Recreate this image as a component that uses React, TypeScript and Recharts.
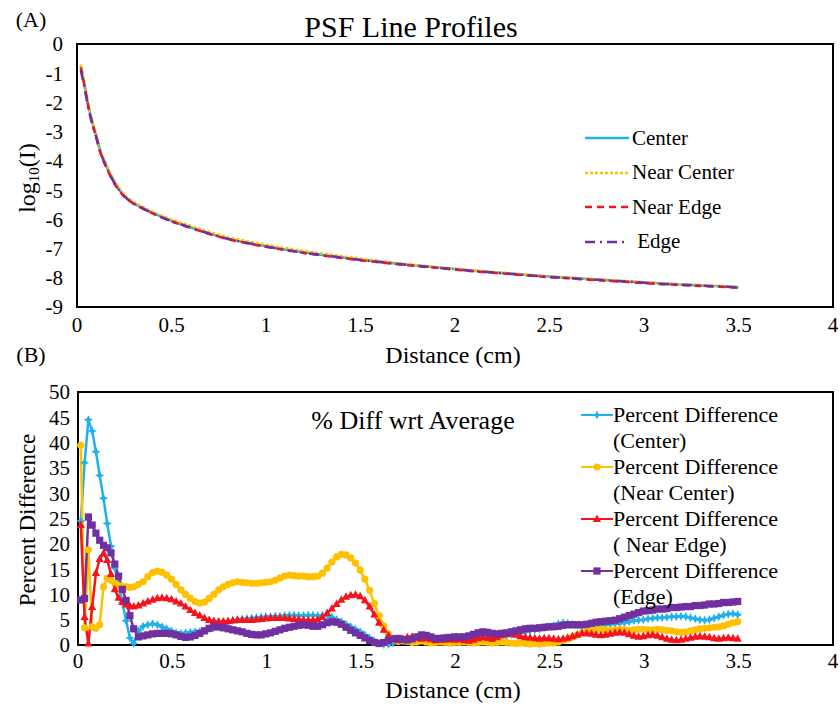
import React from 'react'
import { LineChart, Line, XAxis, YAxis, ReferenceArea } from 'recharts'

const FONT = '"Liberation Serif", "Times New Roman", serif'

const BLUE = '#1FB1EA'
const YELLOW = '#FFC000'
const RED = '#F5141E'
const PURPLE = '#7030A0'

// (A) PSF line profiles, log10 intensity vs distance (cm)
const DIST_A = [0.02, 0.04, 0.06, 0.08, 0.1, 0.125, 0.15, 0.175, 0.2, 0.25, 0.3, 0.35, 0.4, 0.5, 0.6, 0.7, 0.8, 0.9, 1.0, 1.1, 1.2, 1.3, 1.4, 1.5, 1.6, 1.7, 1.8, 1.9, 2.0, 2.1, 2.2, 2.3, 2.4, 2.5, 2.6, 2.7, 2.8, 2.9, 3.0, 3.1, 3.2, 3.3, 3.4, 3.5]
const PSF_CENTER = [-0.75, -1.4, -2.1, -2.65, -3.1, -3.7, -4.1, -4.45, -4.75, -5.2, -5.45, -5.62, -5.78, -6.05, -6.27, -6.48, -6.66, -6.8, -6.92, -7.03, -7.13, -7.22, -7.3, -7.38, -7.45, -7.52, -7.58, -7.64, -7.7, -7.76, -7.81, -7.86, -7.91, -7.96, -8.0, -8.04, -8.08, -8.12, -8.16, -8.2, -8.23, -8.26, -8.29, -8.32]
const PSF_NEAR_CENTER = [-0.7, -1.35, -2.05, -2.6, -3.05, -3.65, -4.05, -4.4, -4.7, -5.15, -5.4, -5.58, -5.74, -6.0, -6.22, -6.43, -6.61, -6.75, -6.87, -6.98, -7.08, -7.17, -7.26, -7.34, -7.42, -7.5, -7.56, -7.63, -7.69, -7.75, -7.8, -7.85, -7.9, -7.95, -7.99, -8.03, -8.07, -8.11, -8.15, -8.19, -8.22, -8.25, -8.28, -8.31]
const PSF_NEAR_EDGE = [-0.8, -1.45, -2.15, -2.7, -3.15, -3.75, -4.15, -4.5, -4.8, -5.22, -5.47, -5.64, -5.8, -6.07, -6.29, -6.5, -6.68, -6.82, -6.94, -7.05, -7.15, -7.24, -7.32, -7.4, -7.47, -7.54, -7.6, -7.66, -7.72, -7.78, -7.83, -7.88, -7.93, -7.98, -8.02, -8.06, -8.1, -8.14, -8.18, -8.22, -8.25, -8.28, -8.31, -8.34]
const PSF_EDGE = [-0.9, -1.5, -2.2, -2.72, -3.15, -3.72, -4.12, -4.48, -4.78, -5.21, -5.46, -5.63, -5.79, -6.06, -6.28, -6.49, -6.67, -6.81, -6.93, -7.04, -7.14, -7.23, -7.31, -7.39, -7.46, -7.53, -7.59, -7.65, -7.71, -7.77, -7.82, -7.87, -7.92, -7.97, -8.01, -8.05, -8.09, -8.13, -8.17, -8.21, -8.24, -8.27, -8.3, -8.33]

// (B) percent difference wrt average
const DIST_B = [
  0.015, 0.035, 0.055, 0.075, 0.095, 0.115, 0.135, 0.155, 0.175, 0.195, 0.215, 0.235, 0.255, 0.275, 0.295,
  0.32, 0.345, 0.37, 0.395, 0.42, 0.445, 0.47, 0.495, 0.52, 0.545, 0.57, 0.595, 0.62, 0.645, 0.67, 0.695, 0.72, 0.745, 0.77, 0.795, 0.82, 0.845, 0.87, 0.895, 0.92, 0.945, 0.97, 0.995,
  1.02, 1.045, 1.07, 1.095, 1.12, 1.145, 1.17, 1.195, 1.22, 1.245, 1.27, 1.295, 1.32, 1.345, 1.37, 1.395, 1.42, 1.445, 1.47, 1.495,
  1.52, 1.545, 1.57, 1.595, 1.62, 1.645, 1.67, 1.695, 1.72, 1.745, 1.77, 1.795, 1.82, 1.845, 1.87, 1.895, 1.92, 1.945, 1.97, 1.995,
  2.02, 2.045, 2.07, 2.095, 2.12, 2.145, 2.17, 2.195, 2.22, 2.245, 2.27, 2.295, 2.32, 2.345, 2.37, 2.395, 2.42, 2.445, 2.47, 2.495,
  2.52, 2.545, 2.57, 2.595, 2.62, 2.645, 2.67, 2.695, 2.72, 2.745, 2.77, 2.795, 2.82, 2.845, 2.87, 2.895, 2.92, 2.945, 2.97, 2.995,
  3.02, 3.045, 3.07, 3.095, 3.12, 3.145, 3.17, 3.195, 3.22, 3.245, 3.27, 3.295, 3.32, 3.345, 3.37, 3.395, 3.42, 3.445, 3.47, 3.495,
]
const PD_CENTER = [
  24.5, 36, 44.5, 42.3, 38.2, 33.5, 29, 24, 19.5, 15.2, 11.9, 8.4, 4.8, 1.4, 0.3,
  2.8, 3.7, 4.0, 4.2, 4.0, 3.6, 3.2, 2.8, 2.4, 2.3, 2.4, 2.5, 2.6, 2.6, 2.8, 3.2, 3.4, 3.6, 4.0, 4.4, 4.8, 5.0, 5.1, 5.2, 5.3, 5.4, 5.5, 5.6,
  5.6, 5.7, 5.7, 5.8, 5.9, 5.9, 5.8, 5.8, 5.9, 5.9, 5.8, 5.9, 5.8, 5.5, 5.0, 4.6, 4.1, 3.6, 3.1, 2.6,
  2.0, 1.4, 0.8, 0.4, 0.1, 0.1, 0.4, 0.8, 1.1, 1.3, 1.4, 1.5, 1.4, 1.2, 1.0, 1.1, 1.3, 1.4, 1.3, 1.2,
  1.3, 1.5, 1.6, 1.5, 1.4, 1.6, 1.8, 1.9, 1.8, 1.7, 1.9, 2.1, 2.3, 2.4, 2.6, 2.8, 3.0, 3.2, 3.4, 3.6,
  3.9, 4.2, 4.4, 4.3, 4.1, 3.9, 3.7, 3.6, 3.7, 3.8, 3.9, 4.0, 4.1, 4.2, 4.3, 4.4, 4.6, 4.8, 4.9, 5.0,
  5.2, 5.3, 5.4, 5.4, 5.5, 5.6, 5.6, 5.7, 5.6, 5.4, 5.2, 5.0, 4.9, 5.0, 5.3, 5.6, 5.9, 6.1, 6.2, 6.0,
]
const PD_NEAR_CENTER = [
  39.5, 3.4, 18.8, 3.6, 3.3, 4.0, 11.5, 13.2, 12.8, 12.2, 11.8, 11.6, 11.5, 11.4, 11.5,
  12.0, 12.5, 13.5, 14.3, 14.6, 14.4, 13.8, 13.0, 12.0, 10.9, 10.0, 9.2, 8.6, 8.3, 8.5, 9.2, 10.0, 10.9, 11.5, 12.0, 12.3, 12.5, 12.4, 12.3, 12.2, 12.2, 12.3, 12.4,
  12.5, 12.8, 13.2, 13.6, 13.8, 13.7, 13.6, 13.6, 13.5, 13.5, 13.6, 14.2, 15.2, 16.4, 17.4, 17.9, 17.8, 17.2, 16.2, 14.8,
  13.0, 10.8, 8.2, 5.8, 3.8, 2.2, 1.1, 0.7, 0.8, 0.7, 0.5, 0.6, 0.8, 0.6, 0.4, 0.5, 0.6, 0.5, 0.4, 0.5,
  0.5, 0.6, 0.5, 0.4, 0.5, 0.6, 0.5, 0.4, 0.5, 0.6, 0.5, 0.4, 0.3, 0.4, 0.3, 0.2, 0.3, 0.2, 0.3, 0.4,
  0.4, 0.6, 0.9, 1.2, 1.6, 2.0, 2.4, 2.7, 2.9, 3.0, 3.1, 3.0, 2.9, 3.0, 3.1, 3.0, 2.9, 3.0, 3.1, 3.1,
  3.0, 3.0, 3.1, 3.0, 2.9, 2.8, 2.6, 2.5, 2.6, 2.8, 3.0, 3.2, 3.3, 3.4, 3.5, 3.6, 3.8, 4.1, 4.4, 4.6,
]
const PD_NEAR_EDGE = [
  23.7, 5.5, 0.3, 7.5, 14.2, 17.0, 18.1, 16.8, 14.0, 11.0, 9.3, 8.5, 8.0, 7.7, 7.6,
  7.8, 8.2, 8.6, 8.9, 9.2, 9.3, 9.2, 9.0, 8.6, 8.2, 7.6, 6.9, 6.3, 5.8, 5.3, 4.9, 4.7, 4.6, 4.6, 4.7, 4.8, 4.9, 4.9, 4.9, 4.9, 5.0, 5.1, 5.2,
  5.3, 5.3, 5.3, 5.3, 5.2, 5.1, 5.0, 4.9, 4.9, 4.9, 5.0, 5.5, 6.3, 7.2, 8.1, 8.9, 9.5, 9.8, 9.9, 9.6,
  8.8, 7.6, 6.0, 4.4, 3.0, 1.9, 1.2, 0.9, 1.2, 1.5, 1.6, 1.4, 1.2, 1.3, 1.1, 0.9, 1.0, 1.0, 1.1, 1.0,
  1.1, 0.9, 0.8, 1.0, 1.3, 1.5, 1.4, 1.2, 1.5, 1.9, 2.1, 2.2, 2.0, 1.7, 1.5, 1.4, 1.3, 1.2, 1.3, 1.3,
  1.2, 1.1, 1.2, 1.4, 1.7, 2.0, 2.3, 2.3, 2.2, 2.0, 1.9, 2.0, 2.2, 2.4, 2.5, 2.4, 2.1, 1.8, 1.6, 1.7,
  1.9, 2.0, 1.8, 1.5, 1.2, 1.0, 0.9, 1.0, 1.2, 1.4, 1.6, 1.7, 1.6, 1.5, 1.3, 1.2, 1.3, 1.4, 1.3, 1.2,
]
const PD_EDGE = [
  8.9, 9.2, 25.3, 23.7, 22.1, 20.7, 19.7, 19.2, 18.2, 16.0, 13.6, 11.0, 8.8, 5.8, 3.2,
  1.6, 1.8, 2.0, 2.2, 2.3, 2.3, 2.3, 2.2, 2.0, 1.7, 1.5, 1.6, 1.9, 2.3, 2.8, 3.3, 3.6, 3.6, 3.4, 3.2, 3.0, 2.8, 2.6, 2.3, 2.1, 2.0, 2.0, 2.2,
  2.4, 2.7, 3.0, 3.3, 3.5, 3.7, 3.9, 4.0, 3.9, 3.7, 3.7, 4.0, 4.4, 4.6, 4.5, 4.1, 3.5, 2.9, 2.4, 1.9,
  1.4, 0.9, 0.5, 0.3, 0.5, 0.9, 1.2, 1.3, 1.1, 1.0, 1.2, 1.6, 2.0, 1.9, 1.6, 1.3, 1.3, 1.4, 1.5, 1.6,
  1.6, 1.6, 1.8, 2.1, 2.4, 2.6, 2.5, 2.3, 2.2, 2.3, 2.4, 2.6, 2.8, 3.0, 3.2, 3.3, 3.3, 3.4, 3.5, 3.6,
  3.6, 3.7, 3.9, 4.0, 4.0, 4.0, 4.0, 4.1, 4.3, 4.5, 4.6, 4.7, 4.8, 4.9, 5.2, 5.5, 5.8, 6.1, 6.4, 6.7,
  6.8, 6.9, 7.1, 7.1, 7.2, 7.4, 7.4, 7.5, 7.6, 7.6, 7.8, 7.8, 7.9, 8.1, 8.1, 8.2, 8.4, 8.4, 8.5, 8.6,
]

const X_TICKS = [0, 0.5, 1, 1.5, 2, 2.5, 3, 3.5, 4]
const Y_TICKS_A = [-9, -8, -7, -6, -5, -4, -3, -2, -1, 0]
const Y_TICKS_B = [0, 5, 10, 15, 20, 25, 30, 35, 40, 45, 50]

const psfRows = DIST_A.map((d, i) => ({
  d,
  center: PSF_CENTER[i],
  nearCenter: PSF_NEAR_CENTER[i],
  nearEdge: PSF_NEAR_EDGE[i],
  edge: PSF_EDGE[i],
}))

const pdRows = DIST_B.map((d, i) => ({
  d,
  center: PD_CENTER[i],
  nearCenter: PD_NEAR_CENTER[i],
  nearEdge: PD_NEAR_EDGE[i],
  edge: PD_EDGE[i],
}))

const tickStyle = { fontSize: 21, fill: '#000', fontFamily: FONT }

// marker shapes
function marker(kind: string, color: string, cx: number, cy: number, key?: any) {
  if (kind === 'star') {
    const a = 4.6, b = 1.5
    return (
      <path key={key} fill={color}
        d={`M${cx},${cy - a}L${cx + b},${cy - b}L${cx + a},${cy}L${cx + b},${cy + b}L${cx},${cy + a}L${cx - b},${cy + b}L${cx - a},${cy}L${cx - b},${cy - b}Z`} />
    )
  }
  if (kind === 'circle') return <circle key={key} cx={cx} cy={cy} r={3.6} fill={color} />
  if (kind === 'triangle') {
    return <path key={key} fill={color} d={`M${cx},${cy - 4.6}L${cx + 4.1},${cy + 2.9}L${cx - 4.1},${cy + 2.9}Z`} />
  }
  return <rect key={key} x={cx - 3.6} y={cy - 3.6} width={7.2} height={7.2} fill={color} />
}

const dotFn = (kind: string, color: string) => (p: any) => {
  if (p.cx == null || p.cy == null) return <g key={`e-${p.index}`} />
  return marker(kind, color, p.cx, p.cy, `${kind}-${p.index}`)
}

const Txt = ({ x, y, size, children, rotate }: any) => (
  <div
    style={{
      position: 'absolute', left: x, top: y, fontFamily: FONT, fontSize: size, lineHeight: 1,
      whiteSpace: 'nowrap', color: '#000',
      transform: `translate(-50%, -50%)${rotate ? ' rotate(-90deg)' : ''}`,
    }}
  >
    {children}
  </div>
)

const LEGEND_A = [
  { name: 'Center', color: BLUE, dash: undefined },
  { name: 'Near Center', color: YELLOW, dash: '3 2' },
  { name: 'Near Edge', color: RED, dash: '7 5' },
  { name: ' Edge', color: PURPLE, dash: '10 5 2 5' },
]

const LEGEND_B = [
  { sub: '(Center)', color: BLUE, kind: 'star' },
  { sub: '(Near Center)', color: YELLOW, kind: 'circle' },
  { sub: '( Near Edge)', color: RED, kind: 'triangle' },
  { sub: '(Edge)', color: PURPLE, kind: 'square' },
]

export default function App() {
  return (
    <div style={{ position: 'absolute', left: 0, top: 0, width: 840, height: 713, background: '#fff', overflow: 'hidden' }}>
      {/* (A) */}
      <div style={{ position: 'absolute', left: 0, top: 0 }}>
        <LineChart width={840} height={345} data={psfRows} margin={{ top: 44, right: 7, bottom: 0, left: 0 }}>
          <XAxis dataKey="d" type="number" domain={[0, 4]} ticks={X_TICKS} interval={0} tickLine={false}
            axisLine={false} height={38} tickMargin={4} tick={tickStyle} />
          <YAxis type="number" domain={[-9, 0]} ticks={Y_TICKS_A} interval={0} tickLine={false}
            axisLine={false} width={77} tickMargin={8} tick={tickStyle} />
          <ReferenceArea x1={0} x2={4} y1={-9} y2={0} fill="none" fillOpacity={0} stroke="#000" strokeWidth={2} />
          <Line dataKey="center" stroke={BLUE} strokeWidth={2.5} dot={false} type="monotone" isAnimationActive={false} />
          <Line dataKey="nearCenter" stroke={YELLOW} strokeWidth={2.5} strokeDasharray="3 2" dot={false} type="monotone" isAnimationActive={false} />
          <Line dataKey="nearEdge" stroke={RED} strokeWidth={2.5} strokeDasharray="7 5" dot={false} type="monotone" isAnimationActive={false} />
          <Line dataKey="edge" stroke={PURPLE} strokeWidth={2.5} strokeDasharray="10 5 2 5" dot={false} type="monotone" isAnimationActive={false} />
        </LineChart>
      </div>

      {/* (B) */}
      <div style={{ position: 'absolute', left: 0, top: 360 }}>
        <LineChart width={840} height={330} data={pdRows} margin={{ top: 32, right: 7, bottom: 0, left: 0 }}>
          <XAxis dataKey="d" type="number" domain={[0, 4]} ticks={X_TICKS} interval={0} tickLine={false}
            axisLine={false} height={45} tick={tickStyle} />
          <YAxis type="number" domain={[0, 50]} ticks={Y_TICKS_B} interval={0} tickLine={false}
            axisLine={false} width={78} tick={tickStyle} />
          <ReferenceArea x1={0} x2={4} y1={0} y2={50} fill="none" fillOpacity={0} stroke="#000" strokeWidth={2} />
          <Line dataKey="center" stroke={BLUE} strokeWidth={2.5} dot={dotFn('star', BLUE)} isAnimationActive={false} />
          <Line dataKey="nearCenter" stroke={YELLOW} strokeWidth={2.5} dot={dotFn('circle', YELLOW)} isAnimationActive={false} />
          <Line dataKey="nearEdge" stroke={RED} strokeWidth={2.5} dot={dotFn('triangle', RED)} isAnimationActive={false} />
          <Line dataKey="edge" stroke={PURPLE} strokeWidth={2.5} dot={dotFn('square', PURPLE)} isAnimationActive={false} />
        </LineChart>
      </div>

      {/* texts */}
      <Txt x={31} y={20} size={22}>(A)</Txt>
      <Txt x={411} y={27} size={30}>PSF Line Profiles</Txt>
      <Txt x={453} y={355} size={24}>Distance (cm)</Txt>
      <Txt x={27} y={178} size={24} rotate>
        log<span style={{ fontSize: 15, position: 'relative', top: 4 }}>10</span>(I)
      </Txt>
      <Txt x={31} y={355} size={22}>(B)</Txt>
      <Txt x={413} y={421} size={26}>% Diff wrt Average</Txt>
      <Txt x={453} y={690} size={24}>Distance (cm)</Txt>
      <Txt x={27} y={520} size={23} rotate>Percent Difference</Txt>

      {/* legend A */}
      <div style={{ position: 'absolute', left: 585, top: 121, fontFamily: FONT, fontSize: 21 }}>
        {LEGEND_A.map((it) => (
          <div key={it.name} style={{ height: 34.5, display: 'flex', alignItems: 'center' }}>
            <svg width={44} height={8} style={{ marginRight: 3 }}>
              <line x1={0} y1={4} x2={44} y2={4} stroke={it.color} strokeWidth={2.5} strokeDasharray={it.dash} />
            </svg>
            <span style={{ whiteSpace: 'pre' }}>{it.name}</span>
          </div>
        ))}
      </div>

      {/* legend B */}
      <div style={{ position: 'absolute', left: 581, top: 402, fontFamily: FONT, fontSize: 22, lineHeight: '26px' }}>
        {LEGEND_B.map((it) => (
          <div key={it.sub} style={{ display: 'flex' }}>
            <svg width={32} height={26} style={{ flex: 'none' }}>
              <line x1={0} y1={13} x2={32} y2={13} stroke={it.color} strokeWidth={2} />
              {marker(it.kind, it.color, 16, 13)}
            </svg>
            <div style={{ whiteSpace: 'pre' }}>
              <div>Percent Difference</div>
              <div>{it.sub}</div>
            </div>
          </div>
        ))}
      </div>
    </div>
  )
}
